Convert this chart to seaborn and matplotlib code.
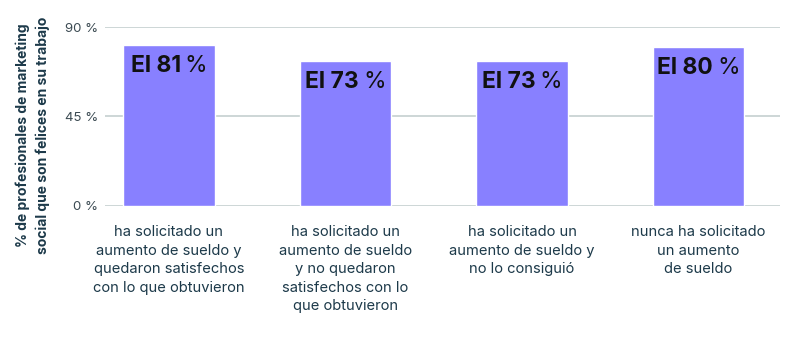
import matplotlib
matplotlib.use("Agg")
import matplotlib.pyplot as plt
import seaborn as sns
import pandas as pd
from matplotlib.offsetbox import TextArea, HPacker, AnnotationBbox

categories = [
    "ha solicitado un\naumento de sueldo y\nquedaron satisfechos\ncon lo que obtuvieron",
    "ha solicitado un\naumento de sueldo\ny no quedaron\nsatisfechos con lo\nque obtuvieron",
    "ha solicitado un\naumento de sueldo y\nno lo consiguió",
    "nunca ha solicitado\nun aumento\nde sueldo",
]
values = [81, 73, 73, 80]
yticks = [0, 45, 90]
ytick_labels = ["0 %", "45 %", "90 %"]
ylabel = "% de profesionales de marketing\nsocial que son felices en su trabajo"

sns.set_theme(style="white")
plt.rcParams["font.family"] = ["Inter", "DejaVu Sans"]

df = pd.DataFrame({"cat": categories, "val": values})

fig = plt.figure(figsize=(7.92, 3.40), dpi=100)
ax = fig.add_axes([105 / 792, 1 - 206 / 340, (780 - 105) / 792, (206 - 27) / 340])

sns.barplot(data=df, x="cat", y="val", color="#8880ff", saturation=1, width=0.52, ax=ax, zorder=3)

ax.set_ylim(0, 90)
ax.set_xlim((105 - 169) / 176.5, (780 - 169) / 176.5)
ax.set_yticks(yticks)
ax.set_yticklabels(ytick_labels, fontsize=9.5, color="#3b4a52")
ax.grid(axis="y", color="#c5d0d0", linewidth=1.2, zorder=0)
ax.grid(axis="x", visible=False)
for s in ax.spines.values():
    s.set_visible(False)
ax.tick_params(axis="both", length=0)
ax.tick_params(axis="y", pad=5)
ax.tick_params(axis="x", pad=14)
for lab in ax.get_xticklabels():
    lab.set_fontsize(10.6)
    lab.set_color("#1d3a4a")
    lab.set_linespacing(1.4)
    lab.set_va("top")
ax.set_xlabel("")
ax.set_ylabel("")

for i, v in enumerate(values):
    t1 = TextArea(f"El {v}", textprops=dict(fontsize=16.5, fontweight="bold", color="#111111"))
    t2 = TextArea("%", textprops=dict(fontsize=16.5, fontweight="normal", color="#111111"))
    box = HPacker(children=[t1, t2], align="baseline", pad=0, sep=3)
    ab = AnnotationBbox(box, (i, v), xybox=(0, -7), boxcoords="offset points",
                        box_alignment=(0.5, 1.0), frameon=False, zorder=5)
    ax.add_artist(ab)

fig.text(33 / 792, 1 - 135 / 340, ylabel, rotation=90, ha="center", va="center",
         fontsize=10, fontweight="bold", color="#1d3a4a", linespacing=1.5)

fig.savefig("out.png", dpi=100)
